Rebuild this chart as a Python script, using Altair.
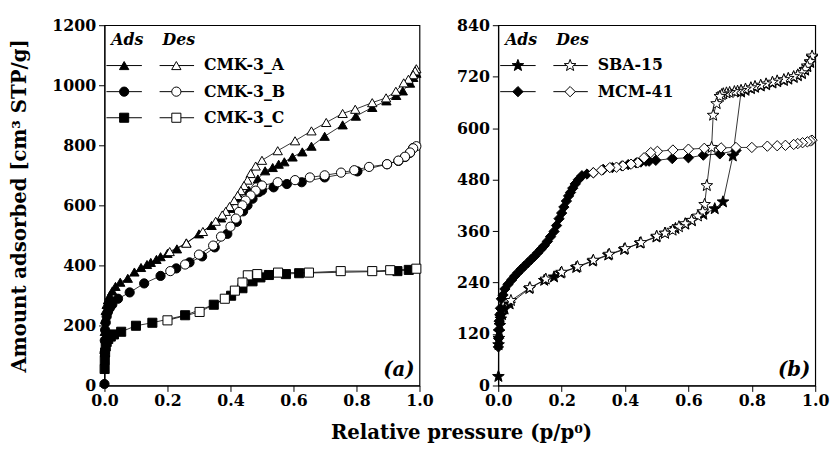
import math
import altair as alt
import pandas as pd

# ---------------- data: panel (a) ----------------
A_ads_p = [0.0005, 0.001, 0.002, 0.004, 0.007, 0.011, 0.017, 0.025, 0.035, 0.05, 0.074, 0.095, 0.116, 0.135,
           0.147, 0.165, 0.178, 0.2, 0.23, 0.26, 0.3, 0.34, 0.37, 0.4, 0.43, 0.458, 0.487, 0.51, 0.534, 0.553,
           0.571, 0.597, 0.628, 0.657, 0.699, 0.756, 0.798, 0.85, 0.895, 0.926, 0.947, 0.97, 0.98, 0.99]
A_ads_v = [120, 180, 220, 250, 270, 285, 300, 315, 330, 344, 357, 378, 393, 403,
           410, 420, 429, 440, 455, 475, 505, 533, 558, 590, 625, 650, 688, 715, 726, 737,
           745, 761, 778, 797, 830, 868, 897, 926, 948, 966, 981, 1007, 1026, 1040]
A_des_p = [0.99, 0.986, 0.98, 0.965, 0.95, 0.925, 0.894, 0.85, 0.796, 0.756, 0.704, 0.657, 0.605, 0.55, 0.5,
           0.48, 0.464, 0.454, 0.443, 0.433, 0.423, 0.412, 0.397, 0.385, 0.374, 0.353, 0.3125, 0.26, 0.207]
A_des_v = [1055, 1048, 1035, 1020, 1008, 980, 958, 942, 920, 906, 876, 848, 815, 782, 750,
           731, 706, 684, 666, 649, 633, 616, 596, 580, 568, 547, 513, 474, 446]

B_ads_p = [0.0, 0.0005, 0.001, 0.002, 0.004, 0.007, 0.011, 0.017, 0.025, 0.043, 0.08, 0.126, 0.178, 0.228,
           0.27, 0.31, 0.35, 0.39, 0.42, 0.44, 0.454, 0.47, 0.49, 0.5, 0.537, 0.579, 0.626, 0.699, 0.803,
           0.897, 0.933, 0.954, 0.97, 0.98]
B_ads_v = [5, 110, 150, 185, 210, 230, 245, 258, 270, 289, 310, 340, 365, 390,
           410, 430, 460, 505, 545, 580, 600, 622, 644, 650, 660, 671, 677, 693, 713,
           737, 748, 761, 775, 791]
B_des_p = [0.99, 0.98, 0.97, 0.954, 0.933, 0.897, 0.84, 0.793, 0.751, 0.699, 0.652, 0.605, 0.55, 0.5, 0.48,
           0.464, 0.448, 0.438, 0.427, 0.417, 0.4, 0.37, 0.345, 0.3, 0.256, 0.209]
B_des_v = [797, 790, 776, 762, 749, 737, 728, 717, 709, 700, 693, 684, 677, 666, 649,
           633, 616, 600, 578, 556, 529, 496, 466, 436, 403, 381]

C_ads_p = [0.0005, 0.001, 0.002, 0.004, 0.007, 0.012, 0.02, 0.03, 0.053, 0.1, 0.152, 0.256, 0.347, 0.402,
           0.438, 0.47, 0.495, 0.522, 0.576, 0.618, 0.93, 0.966]
C_ads_v = [55, 85, 110, 130, 145, 155, 163, 170, 179, 199, 209, 234, 269, 299,
           324, 347, 360, 368, 371, 374, 381, 385]
C_des_p = [0.99, 0.907, 0.85, 0.75, 0.649, 0.551, 0.485, 0.455, 0.438, 0.414, 0.382, 0.302, 0.2]
C_des_v = [389, 384, 381, 381, 376, 376, 371, 367, 343, 316, 289, 245, 217]

# ---------------- data: panel (b) ----------------
S_ads_p = [0.0005, 0.001, 0.002, 0.003, 0.005, 0.008, 0.012, 0.02, 0.036, 0.098, 0.145, 0.176, 0.197, 0.246,
           0.298, 0.347, 0.397, 0.447, 0.499, 0.526, 0.559, 0.59, 0.611, 0.647, 0.683, 0.709, 0.74, 0.766,
           0.78, 0.797, 0.81, 0.828, 0.845, 0.865, 0.88, 0.901, 0.915, 0.932, 0.945, 0.958, 0.968, 0.975,
           0.984, 0.99]
S_ads_v = [21, 95, 110, 125, 140, 155, 165, 178, 190, 226, 245, 253, 262, 275,
           290, 304, 317, 332, 346, 355, 366, 376, 384, 399, 412, 428, 535, 684,
           688, 692, 695, 698, 701, 705, 708, 711, 714, 718, 722, 727, 735, 743,
           753, 765]
S_des_p = [0.99, 0.984, 0.975, 0.968, 0.958, 0.945, 0.932, 0.915, 0.901, 0.88, 0.865, 0.845, 0.828, 0.81,
           0.797, 0.78, 0.766, 0.755, 0.745, 0.73, 0.72, 0.71, 0.705, 0.699, 0.689, 0.678, 0.673, 0.658,
           0.651, 0.645, 0.63, 0.61, 0.59, 0.57, 0.55, 0.526, 0.5, 0.45, 0.4, 0.35, 0.3, 0.25, 0.2, 0.15,
           0.1, 0.04]
S_des_v = [768, 755, 745, 737, 729, 724, 720, 716, 713, 710, 707, 703, 700, 697,
           694, 691, 688, 686, 685, 683, 682, 680, 678, 674, 657, 630, 555, 466,
           422, 405, 395, 385, 377, 370, 362, 355, 348, 333, 319, 306, 292, 277, 264, 248,
           228, 198]

M_ads_p = [0.0005, 0.001, 0.002, 0.003, 0.005, 0.007, 0.01, 0.015, 0.021, 0.031, 0.042, 0.052, 0.062, 0.072,
           0.082, 0.093, 0.104, 0.114, 0.124, 0.134, 0.145, 0.155, 0.165, 0.176, 0.184, 0.192, 0.2, 0.207,
           0.215, 0.222, 0.228, 0.235, 0.243, 0.253, 0.264, 0.28, 0.3, 0.331, 0.36, 0.39, 0.41, 0.435, 0.45,
           0.466, 0.476, 0.497, 0.549, 0.6, 0.647, 0.699, 0.75]
M_ads_v = [90, 110, 130, 150, 165, 180, 202, 211, 225, 236, 246, 255, 263, 271,
           278, 286, 294, 301, 309, 317, 326, 336, 347, 359, 373, 389, 402, 416,
           430, 442, 450, 460, 470, 480, 489, 493, 496, 504, 508, 512, 515, 519, 521,
           523, 523, 525, 529, 531, 537, 540, 548]
M_des_p = [0.99, 0.985, 0.975, 0.96, 0.945, 0.932, 0.906, 0.88, 0.849, 0.8, 0.75, 0.703, 0.65, 0.6, 0.551,
           0.502, 0.481, 0.46, 0.44, 0.419, 0.393, 0.373, 0.352, 0.326, 0.3]
M_des_v = [572, 570, 568, 566, 564, 562, 560, 559, 558, 555, 555, 554, 553, 551, 549,
           546, 543, 531, 519, 516, 512, 509, 508, 502, 496]

samples_a = ["CMK-3_A", "CMK-3_B", "CMK-3_C"]
samples_b = ["SBA-15", "MCM-41"]
branches = ["Ads", "Des"]
x_ticks = [0.0, 0.2, 0.4, 0.6, 0.8, 1.0]
y_ticks_a = [0, 200, 400, 600, 800, 1000, 1200]
y_ticks_b = [0, 120, 240, 360, 480, 600, 720, 840]

# ---------------- styling ----------------
FONT = "DejaVu Serif"


def star_path(outer=1.0, inner=0.42):
    pts = []
    for k in range(10):
        r = outer if k % 2 == 0 else inner
        a = math.radians(-90 + 36 * k)
        pts.append((r * math.cos(a), r * math.sin(a)))
    return "M" + "L".join(f"{x:.3f},{y:.3f}" for x, y in pts) + "Z"


STAR = star_path()
shapes_a = ["triangle-up", "circle", "square"]
sizes_a = [90, 85, 65]
shapes_b = [STAR, "diamond"]
sizes_b = [155, 110]


def frame(series):
    rows = []
    for sample, branch, ps, vs in series:
        for i, (p, v) in enumerate(zip(ps, vs)):
            rows.append({"p": p, "v": v, "sample": sample, "branch": branch,
                         "key": sample + "|" + branch, "i": i})
    return pd.DataFrame(rows)


df_a = frame([
    ("CMK-3_A", "Ads", A_ads_p, A_ads_v), ("CMK-3_A", "Des", A_des_p, A_des_v),
    ("CMK-3_B", "Ads", B_ads_p, B_ads_v), ("CMK-3_B", "Des", B_des_p, B_des_v),
    ("CMK-3_C", "Ads", C_ads_p, C_ads_v), ("CMK-3_C", "Des", C_des_p, C_des_v),
])
df_b = frame([
    ("SBA-15", "Ads", S_ads_p, S_ads_v), ("SBA-15", "Des", S_des_p, S_des_v),
    ("MCM-41", "Ads", M_ads_p, M_ads_v), ("MCM-41", "Des", M_des_p, M_des_v),
])

fill_scale = alt.Scale(domain=branches, range=["black", "white"])


def panel(df, samples, shapes, sizes, ymax, yticks, ytitle, tag, width, height):
    shape_scale = alt.Scale(domain=samples, range=shapes)
    size_scale = alt.Scale(domain=samples, range=sizes)
    xaxis = alt.Axis(values=x_ticks, format=".1f", title=None, labelFlush=False, labelPadding=1)
    if ytitle:
        yaxis = alt.Axis(values=yticks, format="d", title=ytitle, labelFlush=False)
    else:
        yaxis = alt.Axis(values=yticks, format="d", title=None, labelFlush=False)
    x = alt.X("p:Q", scale=alt.Scale(domain=[0, 1], nice=False, zero=False), axis=xaxis)
    y = alt.Y("v:Q", scale=alt.Scale(domain=[0, ymax], nice=False), axis=yaxis)

    base = alt.Chart(df)
    lines = base.mark_line(color="black", strokeWidth=0.8).encode(
        x=x, y=y, detail="key:N", order="i:Q")
    pts = base.mark_point(filled=True, stroke="black", strokeWidth=1, opacity=1).encode(
        x=x, y=y,
        shape=alt.Shape("sample:N", scale=shape_scale, legend=None),
        size=alt.Size("sample:N", scale=size_scale, legend=None),
        fill=alt.Fill("branch:N", scale=fill_scale, legend=None),
    )

    # legend (layout in pixels inside the plot area)
    header_y = 15
    row_gap = 26.5
    leg = pd.DataFrame({"sample": samples,
                        "ly": [header_y + 26 + k * row_gap for k in range(len(samples))]})
    ly = alt.Y("ly:Q", scale=None)
    lb = alt.Chart(leg)
    ads_line = lb.mark_rule(color="black", strokeWidth=1).encode(
        x=alt.value(2), x2=alt.value(38), y=ly)
    des_line = lb.mark_rule(color="black", strokeWidth=1).encode(
        x=alt.value(56), x2=alt.value(91), y=ly)
    ads_sym = lb.mark_point(filled=True, stroke="black", strokeWidth=1, fill="black", opacity=1).encode(
        x=alt.value(20), y=ly,
        shape=alt.Shape("sample:N", scale=shape_scale, legend=None),
        size=alt.Size("sample:N", scale=size_scale, legend=None))
    des_sym = lb.mark_point(filled=True, stroke="black", strokeWidth=1, fill="white", opacity=1).encode(
        x=alt.value(73), y=ly,
        shape=alt.Shape("sample:N", scale=shape_scale, legend=None),
        size=alt.Size("sample:N", scale=size_scale, legend=None))
    labels = lb.mark_text(align="left", baseline="middle", font=FONT, fontWeight="bold",
                          fontSize=16, color="black").encode(
        x=alt.value(101), y=ly, text="sample:N")
    hdr = pd.DataFrame({"t": branches, "hx": [7, 59]})
    headers = alt.Chart(hdr).mark_text(align="left", baseline="middle", font=FONT, fontWeight="bold",
                                       fontStyle="italic", fontSize=16, color="black").encode(
        x=alt.X("hx:Q", scale=None), y=alt.value(header_y), text="t:N")
    tagc = alt.Chart(pd.DataFrame({"t": [tag]})).mark_text(
        align="right", baseline="middle", font=FONT, fontWeight="bold", fontStyle="italic",
        fontSize=20, color="black").encode(x=alt.value(width - 5), y=alt.value(height - 16), text="t:N")

    return alt.layer(lines, pts, ads_line, des_line, ads_sym, des_sym, labels, headers, tagc).properties(
        width=width, height=height)


left = panel(df_a, samples_a, shapes_a, sizes_a, 1200, y_ticks_a,
             "Amount adsorbed [cm³ STP/g]", "(a)", 320, 366)
right = panel(df_b, samples_b, shapes_b, sizes_b, 840, y_ticks_b, None, "(b)", 322, 366)

chart = alt.hconcat(left, right, spacing=22).resolve_scale(
    shape="independent", size="independent", fill="independent"
).properties(
    title=alt.TitleParams("Relative pressure (p/p⁰)", orient="bottom", anchor="middle",
                          font=FONT, fontSize=20, fontWeight="bold", color="black", dx=43, offset=15),
    padding={"left": 0, "top": 5, "right": 0, "bottom": 0},
).configure_view(stroke="black", strokeWidth=1.2).configure_axis(
    labelFont=FONT, labelFontWeight="bold", labelFontSize=16, labelColor="black",
    titleFont=FONT, titleFontWeight="bold", titleFontSize=20, titleColor="black",
    domainColor="black", tickColor="black", tickSize=6, labelPadding=3, grid=False,
    titlePadding=23,
)

chart.save("out.html", embed_options={"renderer": "svg", "actions": False})
